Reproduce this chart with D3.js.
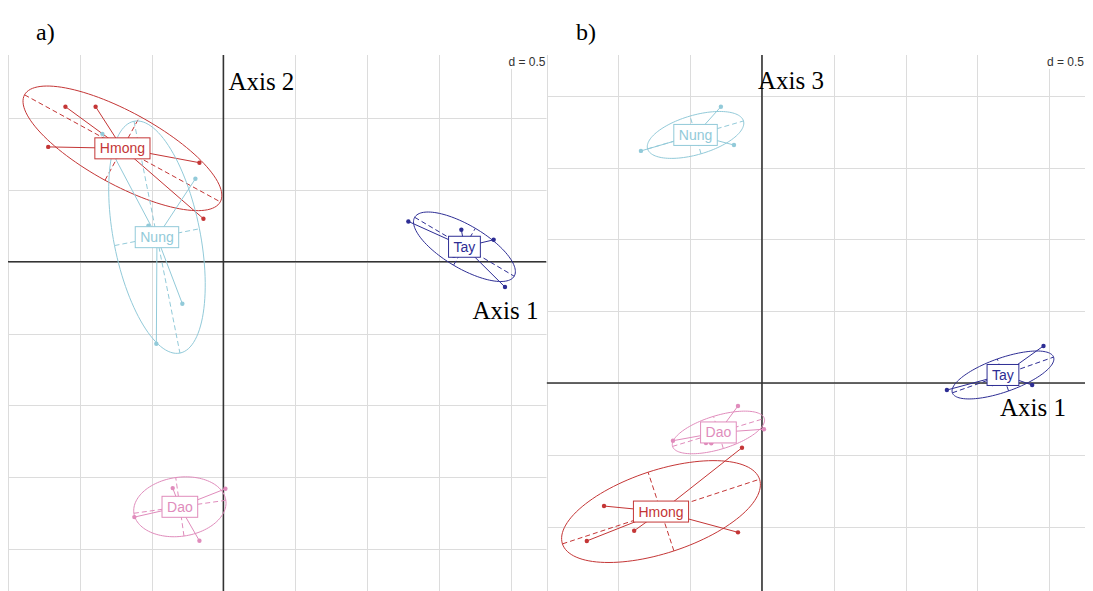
<!DOCTYPE html>
<html lang="en">
<head>
<meta charset="UTF-8">
<script src="https://d3js.org/d3.v7.min.js"></script>
<title>s.class</title>
<style>
  body { margin: 0; background: #fff; }
  .grid line { stroke: #dcdcdc; stroke-width: 1; shape-rendering: crispEdges; }
  .origin { stroke: #333; stroke-width: 1.6; }
  .lab { font-family: "Liberation Sans", Arial, sans-serif; font-size: 14px; }
  .dval { font-family: "Liberation Sans", Arial, sans-serif; font-size: 12px; fill: #333; }
  .big { font-family: "Liberation Serif", "Times New Roman", serif; fill: #000; }
</style>
</head>
<body>
<script>
// classes and scores of the 20 individuals on the first three axes
var groups = ["Dao", "Hmong", "Nung", "Tay"];
var indGroup = ["Dao","Dao","Dao","Dao","Dao",
                "Hmong","Hmong","Hmong","Hmong","Hmong",
                "Nung","Nung","Nung","Nung","Nung",
                "Tay","Tay","Tay","Tay","Tay"];
var axis1 = [-0.353, 0.014, -0.620, -0.167, -0.390,
             -1.100, -0.890, -1.220, -0.167, -0.139,
             -0.843, -0.195, -0.286, -0.467, -0.522,
              1.288, 1.657, 1.882, 1.961, 1.605];
var axis2 = [-1.576, -1.581, -1.778, -1.943, -1.653,
              1.080, 1.080, 0.800, 0.690, 0.300,
              0.891, 0.578, -0.292, -0.571, 0.251,
              0.281, 0.223, 0.153, -0.176, 0.042];
var axis3 = [-0.420, -0.322, -0.402, -0.160, -0.418,
             -0.857, -1.029, -1.100, -1.040, -0.451,
              1.616, 1.657, 1.924, 1.760, 1.680,
             -0.049, 0.091, -0.014, 0.258, -0.007];
var gridStep = 0.5;

var colors = { Dao: "#e08cbc", Hmong: "#c43636", Nung: "#92cad9", Tay: "#2d2d94" };
var cellipse = 1.5;

var W = 1093, H = 591;
var svg = d3.select("body").append("svg")
    .attr("width", W)
    .attr("height", H);

// panel layout
var plotTop = 55, plotBottom = 593.5;
var panels = [
  { name: "a)", xr: [8, 546.5], xd: [-1.5, 2.25], yd: [1.44, -2.31], yv: axis2, yLab: "Axis 2",
    tag: [36, 40], yLabPos: [5, 35], xLabPos: [-8, 57] },
  { name: "b)", xr: [546.6, 1085], xd: [-1.5, 2.25], yd: [2.284, -1.466], yv: axis3, yLab: "Axis 3",
    tag: [576, 40], yLabPos: [-4, 34], xLabPos: [-19, 33] }
];

panels.forEach(function(p, pi) {
  var x = d3.scaleLinear().domain(p.xd).range(p.xr);
  var y = d3.scaleLinear().domain(p.yd).range([plotTop, plotBottom]);

  svg.append("clipPath").attr("id", "clip" + pi)
    .append("rect")
      .attr("x", p.xr[0]).attr("y", plotTop)
      .attr("width", p.xr[1] - p.xr[0]).attr("height", plotBottom - plotTop);

  var g = svg.append("g").attr("clip-path", "url(#clip" + pi + ")");

  // grid
  var xt = d3.range(Math.ceil(p.xd[0] / gridStep), Math.floor(p.xd[1] / gridStep) + 1).map(function(k) { return k * gridStep; });
  var yt = d3.range(Math.ceil(p.yd[1] / gridStep), Math.floor(p.yd[0] / gridStep) + 1).map(function(k) { return k * gridStep; });
  var grid = g.append("g").attr("class", "grid");
  grid.selectAll(".gx").data(xt).enter().append("line")
      .attr("x1", function(d) { return Math.round(x(d)) + 0.5; })
      .attr("x2", function(d) { return Math.round(x(d)) + 0.5; })
      .attr("y1", plotTop).attr("y2", plotBottom);
  grid.selectAll(".gy").data(yt).enter().append("line")
      .attr("y1", function(d) { return Math.round(y(d)) + 0.5; })
      .attr("y2", function(d) { return Math.round(y(d)) + 0.5; })
      .attr("x1", p.xr[0]).attr("x2", p.xr[1]);

  // origin lines
  g.append("line").attr("class", "origin")
      .attr("x1", p.xr[0]).attr("x2", p.xr[1])
      .attr("y1", y(0)).attr("y2", y(0));
  g.append("line").attr("class", "origin")
      .attr("x1", x(0)).attr("x2", x(0))
      .attr("y1", plotTop).attr("y2", plotBottom);

  // class summaries: mean, covariance and ellipse axes
  var stats = groups.map(function(grp) {
    var idx = d3.range(indGroup.length).filter(function(i) { return indGroup[i] === grp; });
    var xs = idx.map(function(i) { return axis1[i]; });
    var ys = idx.map(function(i) { return p.yv[i]; });
    var mx = d3.mean(xs), my = d3.mean(ys);
    var vx = d3.mean(xs, function(v) { return (v - mx) * (v - mx); });
    var vy = d3.mean(ys, function(v) { return (v - my) * (v - my); });
    var cv = d3.mean(xs.map(function(v, k) { return (v - mx) * (ys[k] - my); }));
    var tr = vx + vy, det = vx * vy - cv * cv;
    var disc = Math.sqrt(Math.max(tr * tr / 4 - det, 0));
    var l1 = tr / 2 + disc, l2 = Math.max(tr / 2 - disc, 0);
    var v1 = Math.abs(cv) > 1e-12 ? [l1 - vy, cv] : (vx >= vy ? [1, 0] : [0, 1]);
    var n1 = Math.hypot(v1[0], v1[1]);
    v1 = [v1[0] / n1, v1[1] / n1];
    var v2 = [-v1[1], v1[0]];
    return { grp: grp, xs: xs, ys: ys, mx: mx, my: my,
             a: cellipse * Math.sqrt(l1), b: cellipse * Math.sqrt(l2), v1: v1, v2: v2 };
  });

  var line = d3.line().x(function(d) { return x(d[0]); }).y(function(d) { return y(d[1]); });

  stats.forEach(function(s) {
    var col = colors[s.grp];
    var cg = g.append("g");
    // stars
    cg.selectAll(".star").data(s.xs).enter().append("line")
        .attr("x1", x(s.mx)).attr("y1", y(s.my))
        .attr("x2", function(d) { return x(d); })
        .attr("y2", function(d, k) { return y(s.ys[k]); })
        .attr("stroke", col).attr("stroke-width", 1);
    // ellipse
    var ell = d3.range(0, 361, 3).map(function(t) {
      var r = t * Math.PI / 180;
      return [s.mx + s.a * Math.cos(r) * s.v1[0] + s.b * Math.sin(r) * s.v2[0],
              s.my + s.a * Math.cos(r) * s.v1[1] + s.b * Math.sin(r) * s.v2[1]];
    });
    cg.append("path").attr("d", line(ell))
        .attr("fill", "none").attr("stroke", col).attr("stroke-width", 1);
    // ellipse axes
    [[s.a, s.v1], [s.b, s.v2]].forEach(function(ax) {
      cg.append("path")
          .attr("d", line([[s.mx - ax[0] * ax[1][0], s.my - ax[0] * ax[1][1]],
                           [s.mx + ax[0] * ax[1][0], s.my + ax[0] * ax[1][1]]]))
          .attr("stroke", col).attr("stroke-width", 1).attr("stroke-dasharray", "5,3");
    });
    // points
    cg.selectAll(".pt").data(s.xs).enter().append("circle")
        .attr("cx", function(d) { return x(d); })
        .attr("cy", function(d, k) { return y(s.ys[k]); })
        .attr("r", 2.2).attr("fill", col);
  });

  // class labels
  stats.forEach(function(s) {
    var col = colors[s.grp];
    var lg = g.append("g").attr("transform", "translate(" + x(s.mx) + "," + y(s.my) + ")");
    var rect = lg.append("rect");
    var t = lg.append("text").attr("class", "lab")
        .attr("text-anchor", "middle").attr("dy", "0.36em")
        .attr("fill", col).text(s.grp);
    var w = t.node().getComputedTextLength() + 10;
    rect.attr("x", -w / 2).attr("y", -10.5).attr("width", w).attr("height", 21)
        .attr("fill", "#fff").attr("stroke", col).attr("stroke-width", 1);
  });

  // d = 0.5
  var dt = svg.append("text").attr("class", "dval")
      .attr("x", p.xr[1] - 1).attr("y", 66).attr("text-anchor", "end")
      .text("d = " + gridStep);
  var bb = dt.node().getBBox();
  svg.insert("rect", function() { return dt.node(); })
      .attr("x", bb.x - 2).attr("y", bb.y).attr("width", bb.width + 2).attr("height", bb.height)
      .attr("fill", "#fff");

  // axis names and panel tag
  svg.append("text").attr("class", "big").style("font-size", "25px")
      .attr("x", x(0) + p.yLabPos[0]).attr("y", plotTop + p.yLabPos[1])
      .text(p.yLab);
  svg.append("text").attr("class", "big").style("font-size", "25px")
      .attr("x", p.xr[1] + p.xLabPos[0]).attr("y", y(0) + p.xLabPos[1])
      .attr("text-anchor", "end")
      .text("Axis 1");
  svg.append("text").attr("class", "big").style("font-size", "24px")
      .attr("x", p.tag[0]).attr("y", p.tag[1])
      .text(p.name);
});
</script>
</body>
</html>
